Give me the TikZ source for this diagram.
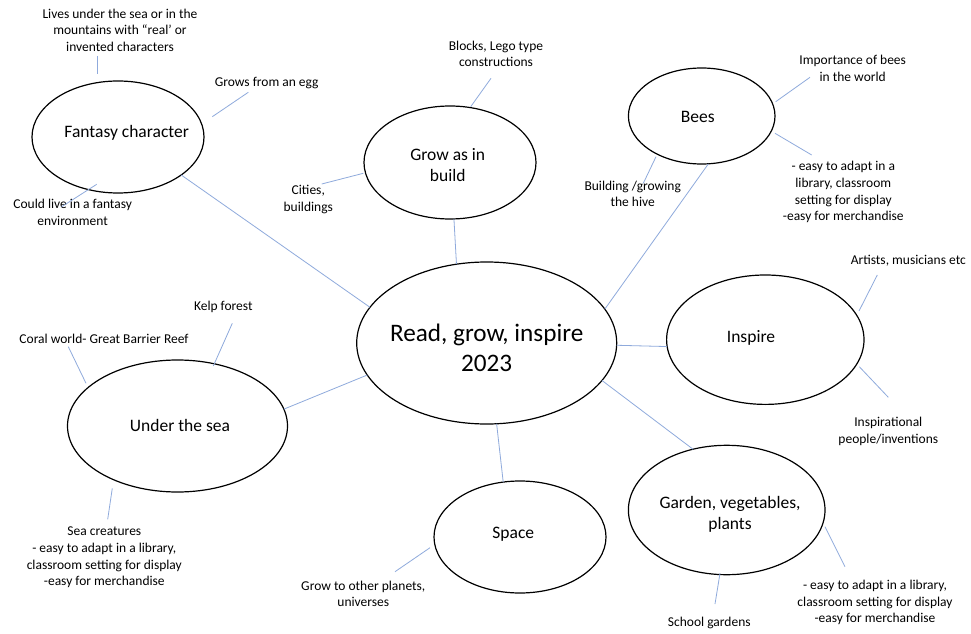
\documentclass[tikz,border=0pt]{standalone}
\usepackage{fontspec}
\setmainfont{Carlito}
\usetikzlibrary{shapes.geometric}
\definecolor{linkblue}{RGB}{143,170,220}
\begin{document}
\begin{tikzpicture}[x=1pt,y=1pt,
  bubble/.style={draw=black, line width=1.2pt, ellipse, inner sep=0pt, outer sep=0pt},
  sub/.style={font=\fontsize{13.5}{16.6}\selectfont, align=center, inner sep=0pt},
  lbl/.style={font=\fontsize{17.5}{21}\selectfont, align=center, inner sep=0pt},
  big/.style={font=\fontsize{25.2}{30}\selectfont, align=center, inner sep=0pt},
  link/.style={draw=linkblue, line width=0.8pt}]
\useasboundingbox[fill=white] (0,0) rectangle (971,633);

% ellipses
\node[bubble, minimum width=260pt, minimum height=162pt] (c) at (486.7,290) {};
\node[bubble, minimum width=172pt, minimum height=112pt] (fan) at (118,496) {};
\node[bubble, minimum width=172pt, minimum height=113pt] (bld) at (450,470.5) {};
\node[bubble, minimum width=146.6pt, minimum height=96pt] (bee) at (701.7,517) {};
\node[bubble, minimum width=197.4pt, minimum height=129.4pt] (ins) at (765.3,293.3) {};
\node[bubble, minimum width=220pt, minimum height=132pt] (sea) at (177.5,207) {};
\node[bubble, minimum width=172pt, minimum height=112pt] (spc) at (520,96) {};
\node[bubble, minimum width=196.6pt, minimum height=129.4pt] (gar) at (726.7,123) {};

% ellipse labels
\node[big] (cT) at (486.7,284.7) {Read, grow, inspire\\2023};
\node[lbl] (fanT) at (126.7,500.3) {Fantasy character};
\node[lbl] (bldT) at (447.7,467.7) {Grow as in\\build};
\node[lbl] (beeT) at (697.7,515.7) {Bees};
\node[lbl] (insT) at (751,294.7) {Inspire};
\node[lbl] (seaT) at (180,207.3) {Under the sea};
\node[lbl] (spcT) at (513.3,98.7) {Space};
\node[lbl] (garT) at (730,118.8) {Garden, vegetables,\\plants};

% central connectors
\draw[link] (c.163.6) -- (fan.-31.9);
\draw[link] (c.111.3) -- (bld.-86.9);
\draw[link] (c.16.8) -- (bee.-82.6);
\draw[link] (c.-1.6) -- (ins.-176);
\draw[link] (c.-18.4) -- (gar.119.4);
\draw[link] (c.-83.2) -- (spc.107.8);
\draw[link] (c.-165.5) -- (sea.9.7);

% sub texts
\node[sub] (t1) at (120,603) {Lives under the sea or in the\\mountains with “real’ or\\invented characters};
\node[sub] (t2) at (266.7,550.3) {Grows from an egg};
\node[sub] (t3) at (72.7,420.7) {Could live in a fantasy\\environment};
\node[sub] (t4) at (496,579.3) {Blocks, Lego type\\constructions};
\node[sub] (t5) at (308.3,433.7) {Cities,\\buildings};
\node[sub] (t6) at (852.7,564.7) {Importance of bees\\in the world};
\node[sub] (t7) at (843.3,440.8) {- easy to adapt in a\\library, classroom\\setting for display\\-easy for merchandise};
\node[sub] (t8) at (632.7,439.3) {Building /growing\\the hive};
\node[sub] (t9) at (908.3,372.3) {Artists, musicians etc};
\node[sub] (t10) at (888.3,201.7) {Inspirational\\people/inventions};
\node[sub] (t11) at (223.3,326.3) {Kelp forest};
\node[sub] (t12) at (104,294) {Coral world- Great Barrier Reef};
\node[sub] (t13) at (104.3,75.5) {Sea creatures\\- easy to adapt in a library,\\classroom setting for display\\-easy for merchandise};
\node[sub] (t14) at (363.3,39.3) {Grow to other planets,\\universes};
\node[sub] (t15) at (709.3,10.3) {School gardens};
\node[sub] (t16) at (875,30.3) {- easy to adapt in a library,\\classroom setting for display\\-easy for merchandise};

% sub connector end points
\coordinate (a1) at (97.7,577);   \coordinate (b1) at (97.7,559);
\coordinate (a2) at (248.3,540.7); \coordinate (b2) at (212.3,516.3);
\coordinate (a3) at (96.7,448.7);  \coordinate (b3) at (61.7,426.3);
\coordinate (a4) at (491,554.7);   \coordinate (b4) at (470.7,526.3);
\coordinate (a5) at (363.3,459.7); \coordinate (b5) at (321.7,449);
\coordinate (a6) at (810,555.7);   \coordinate (b6) at (775.7,531.3);
\coordinate (a7) at (775,499.7);   \coordinate (b7) at (811.7,478);
\coordinate (a8) at (656,476.3);   \coordinate (b8) at (643.3,449.7);
\coordinate (a9) at (877.3,358);   \coordinate (b9) at (859,322);
\coordinate (a10) at (859.3,266.3); \coordinate (b10) at (888.3,235.7);
\coordinate (a11) at (232.3,309.7); \coordinate (b11) at (213.3,267);
\coordinate (a12) at (68.3,286.3);  \coordinate (b12) at (86,249.7);
\coordinate (a13) at (112.3,144.7); \coordinate (b13) at (107.7,113.7);
\coordinate (a14) at (430,85.3);    \coordinate (b14) at (395,61.3);
\coordinate (a15) at (720,59.7);    \coordinate (b15) at (715,29);
\coordinate (a16) at (825,106.3);   \coordinate (b16) at (845,66.3);
\foreach \i in {1,...,16} {\draw[link] (a\i) -- (b\i);}
\end{tikzpicture}
\end{document}
